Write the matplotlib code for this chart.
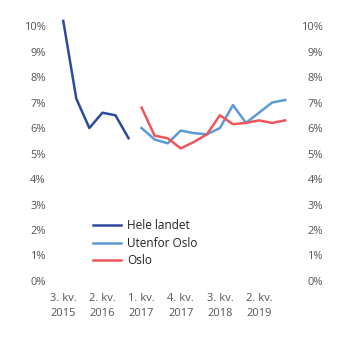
import matplotlib
matplotlib.use("Agg")
import matplotlib.pyplot as plt
import numpy as np

plt.rcParams['font.family'] = ['Open Sans', 'DejaVu Sans']

quarters = ["3. kv.\n2015", "4. kv.\n2015", "1. kv.\n2016", "2. kv.\n2016", "3. kv.\n2016", "4. kv.\n2016",
            "1. kv.\n2017", "2. kv.\n2017", "3. kv.\n2017", "4. kv.\n2017", "1. kv.\n2018", "2. kv.\n2018",
            "3. kv.\n2018", "4. kv.\n2018", "1. kv.\n2019", "2. kv.\n2019", "3. kv.\n2019", "4. kv.\n2019"]
hele_landet = [10.2, 7.15, 6.0, 6.6, 6.5, 5.6]
utenfor_oslo = [6.0, 5.55, 5.4, 5.9, 5.8, 5.75, 6.0, 6.9, 6.2, 6.6, 7.0, 7.1]
oslo = [6.8, 5.7, 5.6, 5.2, 5.45, 5.75, 6.5, 6.15, 6.2, 6.3, 6.2, 6.3]
yticks = list(range(0, 11))

fig = plt.figure(figsize=(3.46, 3.41), dpi=100)
ax = fig.add_axes([0.164, 0.176, 0.679, 0.785])

x = np.arange(len(quarters))
ax.plot(x[:len(hele_landet)], hele_landet, color='#2e4a9c', lw=1.8, label='Hele landet')
ax.plot(x[6:6 + len(utenfor_oslo)], utenfor_oslo, color='#5b9bd5', lw=1.8, label='Utenfor Oslo')
ax.plot(x[6:6 + len(oslo)], oslo, color='#f0555a', lw=1.8, label='Oslo')

ax.set_xlim(-0.5, len(quarters) - 0.5)
ax.set_ylim(0, 10.5)
ax.set_yticks(yticks)
ax.set_yticklabels([f"{v}%" for v in yticks])
ax.set_xticks(x[::3])
ax.set_xticklabels(quarters[::3], linespacing=1.4)
for s in ax.spines.values():
    s.set_visible(False)
ax.tick_params(axis='both', length=0, labelsize=8, colors='#555555')
ax.tick_params(axis='y', pad=8)
ax.tick_params(axis='x', pad=9)

ax2 = ax.twinx()
ax2.set_ylim(ax.get_ylim())
ax2.set_yticks(yticks)
ax2.set_yticklabels([f"{v}%" for v in yticks])
for s in ax2.spines.values():
    s.set_visible(False)
ax2.tick_params(axis='y', length=0, labelsize=8, colors='#555555', pad=22.5)
for lab in ax2.get_yticklabels():
    lab.set_ha('right')

leg = ax.legend(loc='upper left', bbox_to_anchor=(0.269, 0.358, 0, 0), bbox_transform=fig.transFigure,
                frameon=False, fontsize=8.5, handlelength=2.4, handletextpad=0.5, labelspacing=0.4,
                borderpad=0, borderaxespad=0)
for t in leg.get_texts():
    t.set_color('#222222')

fig.savefig('out.png', dpi=100)
